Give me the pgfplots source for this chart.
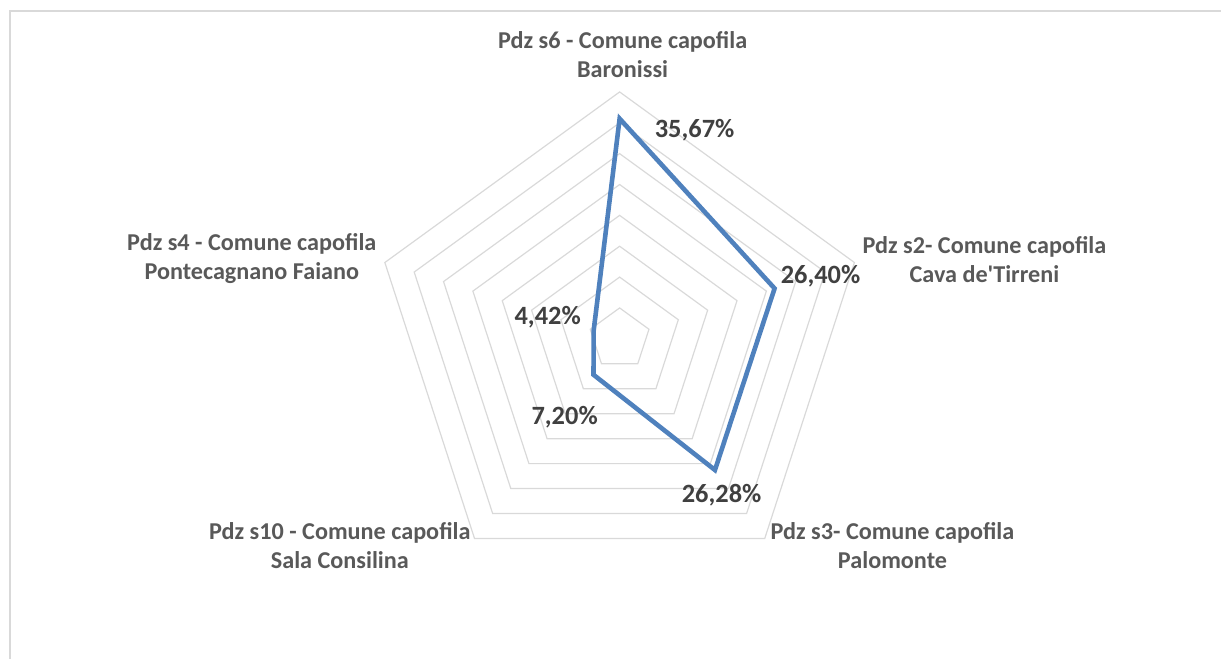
\documentclass[border=0pt]{standalone}
\usepackage{pgfplots}
\pgfplotsset{compat=1.18}
\usepackage{pgfplotstable}
\usepackage{fontspec}
\setmainfont{Carlito}
\definecolor{serie}{HTML}{4F81BD}
\definecolor{griglia}{HTML}{D9D9D9}
\definecolor{etich}{HTML}{595959}
\definecolor{valori}{HTML}{404040}

% angoli dei cinque assi
\pgfplotstableread{
a r
90 1
18 1
-54 1
-126 1
162 1
}\assi

% quota per ambito (%)
\pgfplotstableread{
a v
90 35.67
18 26.40
-54 26.28
-126 7.20
162 4.42
}\dati

\begin{document}
\begin{tikzpicture}[
  cat/.style={font=\fontsize{12.1}{14.5}\selectfont\bfseries, text=etich, align=center, inner sep=0pt},
  val/.style={font=\fontsize{13.2}{16}\selectfont\bfseries, text=valori, inner sep=0pt},
]
\begin{axis}[
  scale only axis, width=611pt, height=329.5pt,
  xmin=-100.40, xmax=97.49, ymin=-51.82, ymax=54.90,
  axis lines=none, ticks=none, clip=false,
]
\path (rel axis cs:0,0) rectangle (rel axis cs:1,1);
\draw[griglia, line width=0.7pt] (axis cs:-98.79,-51.82) -- (axis cs:-98.79,53.12) -- (axis cs:97.49,53.12);

\pgfplotsinvokeforeach{5,10,...,40}{
  \addplot[griglia, line width=0.6pt, line join=miter] table[x expr=#1*\thisrow{r}*cos(\thisrow{a}), y expr=#1*\thisrow{r}*sin(\thisrow{a})] {\assi} -- cycle;
}

\addplot[serie, line width=2.3pt, line join=miter, mark=none]
  table[x expr=\thisrow{v}*cos(\thisrow{a}), y expr=\thisrow{v}*sin(\thisrow{a})] {\dati} -- cycle;

\node[cat] at (axis cs:0.49,46.07) {Pdz s6 - Comune capofila\\Baronissi};
\node[cat] at (axis cs:59.11,12.79) {Pdz s2- Comune capofila\\Cava de\textquotesingle Tirreni};
\node[cat] at (axis cs:44.21,-33.44) {Pdz s3- Comune capofila\\Palomonte};
\node[cat] at (axis cs:-45.34,-33.44) {Pdz s10 - Comune capofila\\Sala Consilina};
\node[cat] at (axis cs:-59.60,12.96) {Pdz s4 - Comune capofila\\Pontecagnano Faiano};

\node[val] at (axis cs:12.15,33.85) {35,67\%};
\node[val] at (axis cs:32.55,10.20) {26,40\%};
\node[val] at (axis cs:16.52,-25.26) {26,28\%};
\node[val] at (axis cs:-8.91,-12.63) {7,20\%};
\node[val] at (axis cs:-11.66,3.56) {4,42\%};
\end{axis}
\end{tikzpicture}
\end{document}
